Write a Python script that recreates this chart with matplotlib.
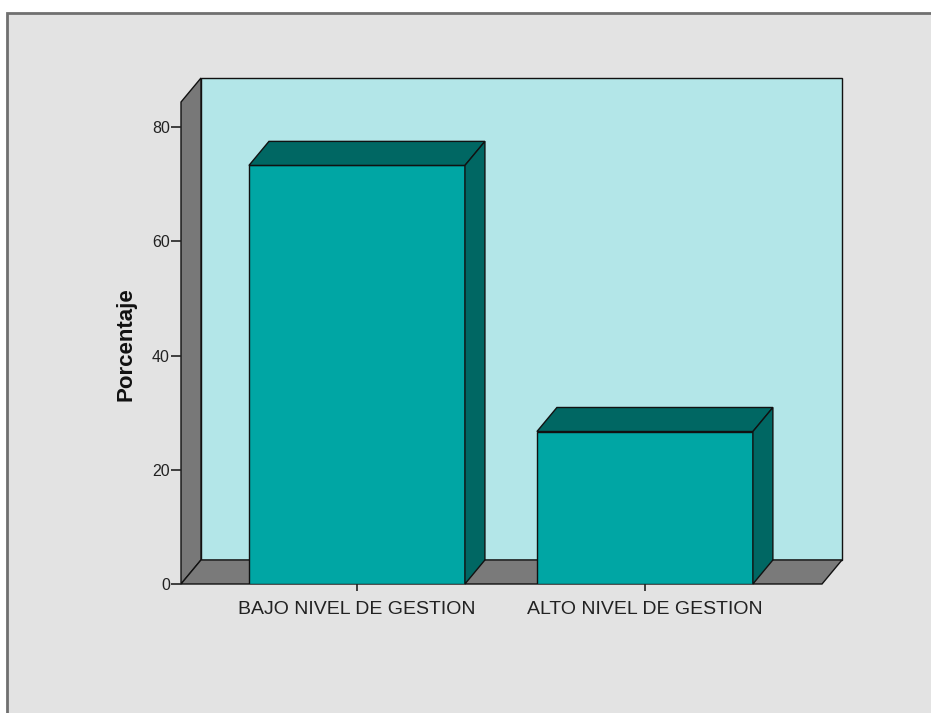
import matplotlib.pyplot as plt
from matplotlib.patches import Polygon, Rectangle

categorias = ['BAJO NIVEL DE GESTION', 'ALTO NIVEL DE GESTION']
porcentajes = [73.3, 26.7]
yticks = [0, 20, 40, 60, 80]

W, H = 931, 713
fig = plt.figure(figsize=(W / 100, H / 100), dpi=100)
fig.patch.set_facecolor('white')
plt.rcParams['font.family'] = ['Liberation Sans', 'DejaVu Sans']

# gray frame of the output panel
fig.patches.append(Rectangle((7 / W, -0.01), 1.0, (H - 13) / H + 0.01,
                             transform=fig.transFigure, facecolor='#e3e3e3',
                             edgecolor='#707070', linewidth=2, zorder=-5))

ax = fig.add_axes([181 / W, (H - 584) / H, (842 - 181) / W, (584 - 78) / H])
ax.set_zorder(2)
ax.set_facecolor('none')

x0, xf = -0.611, 1.615   # front floor extents (category units)
dx, dy = 0.0694, 4.21    # 3d depth offset
ytop = 84.4
ax.set_xlim(x0, xf + dx)
ax.set_ylim(0, ytop + dy)

ec = '#111111'
# back wall, side wall, floor
ax.add_patch(Polygon([(x0 + dx, dy), (xf + dx, dy), (xf + dx, ytop + dy), (x0 + dx, ytop + dy)],
                     facecolor='#b3e6e8', edgecolor=ec, lw=1, clip_on=False, zorder=1))
ax.add_patch(Polygon([(x0, 0), (x0 + dx, dy), (x0 + dx, ytop + dy), (x0, ytop)],
                     facecolor='#787878', edgecolor=ec, lw=1, clip_on=False, zorder=1))
ax.add_patch(Polygon([(x0, 0), (xf, 0), (xf + dx, dy), (x0 + dx, dy)],
                     facecolor='#7a7a7a', edgecolor=ec, lw=1, clip_on=False, zorder=1))

xs = list(range(len(categorias)))
w = 0.75
ax.bar(xs, porcentajes, width=w, color='#00a6a4', edgecolor=ec, linewidth=1, zorder=3)
for x, v in zip(xs, porcentajes):
    l, r = x - w / 2, x + w / 2
    ax.add_patch(Polygon([(l, v), (r, v), (r + dx, v + dy), (l + dx, v + dy)],
                         facecolor='#006763', edgecolor=ec, lw=1, zorder=3, clip_on=False))
    ax.add_patch(Polygon([(r, 0), (r + dx, dy), (r + dx, v + dy), (r, v)],
                         facecolor='#006763', edgecolor=ec, lw=1, zorder=3, clip_on=False))

for s in ax.spines.values():
    s.set_visible(False)

ax.set_yticks(yticks)
ax.set_yticklabels([str(t) for t in yticks])
ax.set_xticks(xs)
ax.set_xticklabels(categorias)
ax.tick_params(axis='y', length=7, width=1.2, color='#222222', labelsize=11.5, pad=1)
ax.tick_params(axis='x', length=5, width=1.2, color='#222222', labelsize=14, pad=7)
for t in ax.get_xticklabels() + ax.get_yticklabels():
    t.set_color('#222222')

fig.text(126 / W, 1 - 344 / H, 'Porcentaje', rotation=90, ha='center', va='center',
         fontsize=16, fontweight='bold', color='#111111')

fig.savefig('out.png', dpi=100)
